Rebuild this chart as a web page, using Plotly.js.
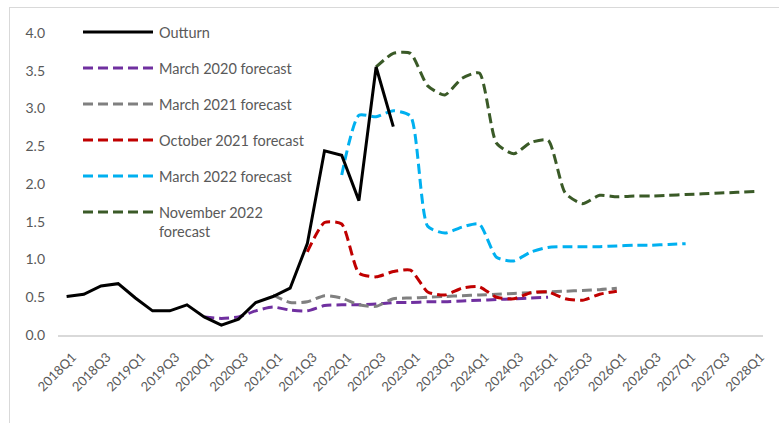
<!DOCTYPE html>
<html>
<head>
<meta charset="utf-8">
<script src="https://cdn.plot.ly/plotly-3.0.1.min.js"></script>
<style>
  html, body { margin: 0; padding: 0; background: #fff; overflow: hidden; }
  #chart { position: absolute; left: 0; top: 0; width: 779px; height: 423px; }
  #frame { position: absolute; left: 9px; top: 7px; width: 800px; height: 440px;
           border-left: 1px solid #d9d9d9; border-top: 1px solid #d9d9d9; pointer-events: none; }
</style>
</head>
<body>
<div id="chart"></div>
<div id="frame"></div>
<script>
// Categories (quarters)
const quarters = ["2018Q1","2018Q2","2018Q3","2018Q4","2019Q1","2019Q2","2019Q3","2019Q4",
  "2020Q1","2020Q2","2020Q3","2020Q4","2021Q1","2021Q2","2021Q3","2021Q4",
  "2022Q1","2022Q2","2022Q3","2022Q4","2023Q1","2023Q2","2023Q3","2023Q4",
  "2024Q1","2024Q2","2024Q3","2024Q4","2025Q1","2025Q2","2025Q3","2025Q4",
  "2026Q1","2026Q2","2026Q3","2026Q4","2027Q1","2027Q2","2027Q3","2027Q4","2028Q1"];

// Series names and their first quarter
const seriesNames = ["Outturn","March 2020 forecast","March 2021 forecast","October 2021 forecast","March 2022 forecast","November 2022 forecast"];
const seriesStart = ["2018Q1","2020Q1","2021Q1","2021Q3","2022Q1","2022Q3"];

// Values
const outturn = [0.51,0.54,0.65,0.68,0.49,0.32,0.32,0.40,0.24,0.13,0.21,0.43,0.51,0.62,1.21,2.44,2.38,1.78,3.55,2.76];
const mar2020 = [0.24,0.22,0.24,0.32,0.37,0.33,0.32,0.39,0.40,0.40,0.41,0.43,0.43,0.44,0.44,0.45,0.46,0.47,0.48,0.49,0.50];
const mar2021 = [0.53,0.43,0.44,0.52,0.49,0.40,0.38,0.48,0.49,0.50,0.51,0.52,0.53,0.54,0.55,0.56,0.57,0.58,0.59,0.60,0.62];
const oct2021 = [1.10,1.49,1.47,0.82,0.77,0.84,0.86,0.57,0.53,0.62,0.64,0.50,0.48,0.56,0.57,0.48,0.46,0.54,0.58];
const mar2022 = [2.12,2.91,2.89,2.97,2.90,1.44,1.35,1.43,1.47,1.03,0.98,1.10,1.16,1.17,1.17,1.17,1.18,1.19,1.19,1.20,1.21];
const nov2022 = [3.55,3.73,3.73,3.30,3.18,3.40,3.47,2.54,2.40,2.55,2.58,1.88,1.74,1.85,1.83,1.84,1.84,1.85,1.86,1.87,1.88,1.89,1.90];

// X tick labels (every other quarter)
const tickLabels = ["2018Q1","2018Q3","2019Q1","2019Q3","2020Q1","2020Q3","2021Q1","2021Q3","2022Q1","2022Q3",
  "2023Q1","2023Q3","2024Q1","2024Q3","2025Q1","2025Q3","2026Q1","2026Q3","2027Q1","2027Q3","2028Q1"];
const yTicks = [0,0.5,1.0,1.5,2.0,2.5,3.0,3.5,4.0];

const seriesValues = [outturn, mar2020, mar2021, oct2021, mar2022, nov2022];
const colors = ["#000000","#7030A0","#808080","#C00000","#00B0F0","#3A5A27"];
const DASH = "10px,5px";
const TXT = "#595959";
const FONT = "Lato, 'Open Sans', sans-serif";

const traces = [];
const order = [1,2,3,4,5,0];
order.forEach(function(k){
  const vals = seriesValues[k];
  const s = quarters.indexOf(seriesStart[k]);
  const xs = quarters.slice(s, s + vals.length);
  traces.push({
    type: "scatter", mode: "lines", name: seriesNames[k],
    x: xs, y: vals, showlegend: false, hoverinfo: "x+y+name",
    line: k === 0 ? {color: colors[k], width: 3}
                  : {color: colors[k], width: 3, dash: DASH, shape: "spline", smoothing: 0.6}
  });
});

// Custom legend (long line samples like the original)
const L = 58, R = 16, T = 33, B = 88, W = 779, H = 423;
const pw = W - L - R, ph = H - T - B;
const px2x = function(p){ return (p - L) / pw; };
const py2y = function(p){ return (H - B - p) / ph; };
const legendRows = [32, 68, 104, 140, 176, 212];
const shapes = [], annotations = [];
seriesNames.forEach(function(n, k){
  const yy = py2y(legendRows[k]);
  shapes.push({type: "line", xref: "paper", yref: "paper", x0: px2x(83), x1: px2x(153), y0: yy, y1: yy,
    line: {color: colors[k], width: 3, dash: k === 0 ? "solid" : DASH}});
  const multi = (k === 5);
  annotations.push({xref: "paper", yref: "paper", x: px2x(157), y: multi ? py2y(221.5) : yy,
    xanchor: "left", yanchor: "middle", align: "left", showarrow: false,
    text: multi ? "November 2022<br>forecast" : n,
    font: {family: FONT, size: 14.5, color: TXT}});
});

const layout = {
  width: W, height: H,
  margin: {l: L, r: R, t: T, b: B, pad: 0},
  paper_bgcolor: "rgba(0,0,0,0)", plot_bgcolor: "rgba(0,0,0,0)",
  font: {family: FONT, color: TXT},
  xaxis: {
    type: "category", categoryorder: "array", categoryarray: quarters,
    range: [-0.5, quarters.length - 0.5],
    tickmode: "array", tickvals: tickLabels, ticktext: tickLabels,
    tickangle: -45, tickfont: {family: FONT, size: 13, color: TXT},
    ticklabelshift: 6, ticklabelstandoff: 8,
    showgrid: false, zeroline: false, showline: true, linecolor: "#d9d9d9", linewidth: 1.5,
    ticks: "", fixedrange: true
  },
  yaxis: {
    range: [0, 4], tickmode: "array", tickvals: yTicks, tickformat: ".1f",
    tickfont: {family: FONT, size: 14, color: TXT},
    showgrid: false, zeroline: false, showline: false, ticks: "",
    ticklabelstandoff: 12, fixedrange: true
  },
  shapes: shapes, annotations: annotations, showlegend: false
};

Plotly.newPlot("chart", traces, layout, {displayModeBar: false, staticPlot: true});
</script>
</body>
</html>
